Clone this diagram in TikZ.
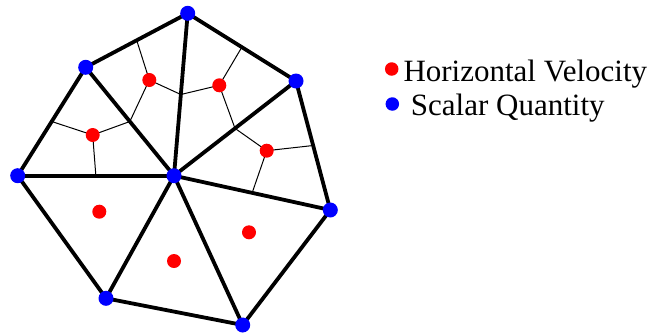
\documentclass[tikz,border=0pt]{standalone}
\usepackage{fontspec}
\setmainfont{Liberation Serif}
\newfontfamily\legendfont{Liberation Serif}
\usetikzlibrary{calc, positioning}
\definecolor{velred}{HTML}{FF0000}
\definecolor{scalblue}{HTML}{0000FF}

\tikzset{
  edge/.style={line width=3.8pt, line cap=round},
  dual/.style={line width=1pt},
  scalar/.style={circle, fill=scalblue, inner sep=0pt, minimum size=15pt},
  velocity/.style={circle, fill=velred, inner sep=0pt, minimum size=14pt},
  legendtext/.style={inner sep=0pt, anchor=base west, font=\legendfont\fontsize{31}{31}\selectfont}
}

\begin{document}
\begin{tikzpicture}[x=1pt, y=-1pt]
    \useasboundingbox (0,0) rectangle (655,333);
    % mesh vertices
    \coordinate (c)  at (174,175.7);
    \coordinate (v1) at (187.7,13.3);
    \coordinate (v2) at (85.7,67.3);
    \coordinate (v3) at (17.7,175.7);
    \coordinate (v4) at (106,298.3);
    \coordinate (v5) at (242.7,325);
    \coordinate (v6) at (330.3,210);
    \coordinate (v7) at (296,81);
    % cell centres
    \coordinate (r12) at (149.3,80);
    \coordinate (r17) at (219.3,85.3);
    \coordinate (r23) at (92.7,135);
    \coordinate (r76) at (266.7,150.7);
    \coordinate (r34) at (99.3,211.7);
    \coordinate (r45) at (174,261);
    \coordinate (r56) at (249,232.3);
    % edge midpoints
    \coordinate (m12) at ($(v1)!0.5!(v2)$);
    \coordinate (m17) at ($(v1)!0.5!(v7)$);
    \coordinate (m23) at ($(v2)!0.5!(v3)$);
    \coordinate (m76) at ($(v7)!0.5!(v6)$);
    \coordinate (mc1) at ($(c)!0.5!(v1)$);
    \coordinate (mc2) at ($(c)!0.5!(v2)$);
    \coordinate (mc3) at ($(c)!0.5!(v3)$);
    \coordinate (mc7) at ($(c)!0.5!(v7)$);
    \coordinate (mc6) at ($(c)!0.5!(v6)$);

    % dual lines
    \draw[dual] (r12) -- (m12) (r12) -- (mc1) (r12) -- (mc2);
    \draw[dual] (r17) -- (m17) (r17) -- (mc1) (r17) -- (mc7);
    \draw[dual] (r23) -- (m23) (r23) -- (mc2) (r23) -- (mc3);
    \draw[dual] (r76) -- (m76) (r76) -- (mc7) (r76) -- (mc6);

    % triangles
    \draw[edge] (v1) -- (v2) -- (v3) -- (v4) -- (v5) -- (v6) -- (v7) -- cycle;
    \foreach \v in {v1,v2,v3,v4,v5,v6,v7}
      \draw[edge] (c) -- (\v);

    % points
    \foreach \r in {r12,r17,r23,r76,r34,r45,r56}
      \node[velocity] at (\r) {};
    \foreach \v in {c,v1,v2,v3,v4,v5,v6,v7}
      \node[scalar] at (\v) {};

    % legend
    \node[velocity, minimum size=13.5pt] (legvel) at (391.7,69) {};
    \node[scalar, minimum size=13.5pt] (legscal) at (392.3,104) {};
    \node[legendtext] (velname) at (403.3,81.7) {Horizontal Velocity};
    \node[legendtext] (scalname) at (410.7,115) {Scalar Quantity};
\end{tikzpicture}
\end{document}
